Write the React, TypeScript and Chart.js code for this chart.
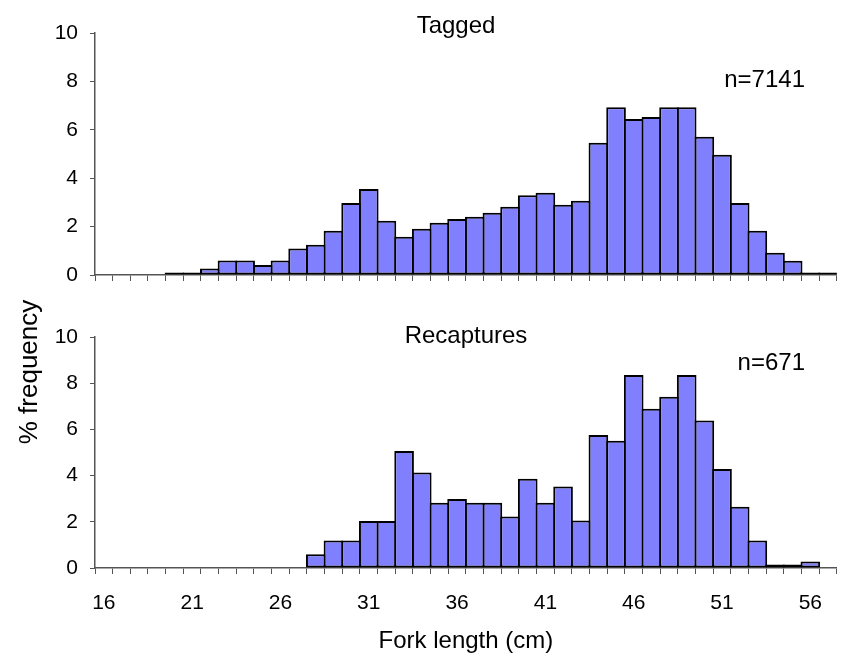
import React, { useEffect, useRef } from 'react';
import { Chart, registerables } from 'chart.js';

Chart.register(...registerables);

// Fork length classes (cm)
const lengths = [
  '16', '17', '18', '19', '20', '21', '22', '23', '24', '25', '26', '27', '28', '29',
  '30', '31', '32', '33', '34', '35', '36', '37', '38', '39', '40', '41', '42', '43',
  '44', '45', '46', '47', '48', '49', '50', '51', '52', '53', '54', '55', '56', '57',
];

// Tick labels shown on the x axis
const shownTicks = ['16', '21', '26', '31', '36', '41', '46', '51', '56'];

// % frequency, tagged fish (n=7141)
const tagged = [
  0, 0, 0, 0, 0.1, 0.1, 0.27, 0.6, 0.6, 0.41, 0.6, 1.09, 1.25, 1.83,
  2.98, 3.55, 2.24, 1.58, 1.91, 2.16, 2.31, 2.41, 2.57, 2.82, 3.3, 3.4, 2.9, 3.07,
  5.46, 6.93, 6.45, 6.53, 6.93, 6.93, 5.71, 4.97, 2.98, 1.83, 0.92, 0.59, 0.1, 0.1,
];

// % frequency, recaptured fish (n=671)
const recaptures = [
  0, 0, 0, 0, 0, 0, 0, 0, 0, 0, 0, 0, 0.6, 1.19,
  1.19, 2.04, 2.04, 5.06, 4.13, 2.83, 2.99, 2.83, 2.83, 2.23, 3.86, 2.83, 3.53, 2.06,
  5.76, 5.51, 8.36, 6.89, 7.41, 8.36, 6.39, 4.29, 2.65, 1.19, 0.15, 0.15, 0.28, 0,
];

const panelTitles = ['Tagged', 'Recaptures'];
const sampleSizes = ['n=7141', 'n=671'];
const yAxisTitle = '% frequency';
const xAxisTitle = 'Fork length (cm)';

const FONT = "'Liberation Sans', Arial, Helvetica, sans-serif";
const AXIS = '#555555';
const BAR_FILL = '#8080FF';
const W = 845;
const H = 655;

type TextItem = {
  text: string;
  x: number;
  y: number;
  align: CanvasTextAlign;
  size: number;
  rotate?: boolean;
};

function textPlugin(items: TextItem[]) {
  return {
    id: 'panelTexts',
    afterDraw(chart: any) {
      const ctx = chart.ctx as CanvasRenderingContext2D;
      ctx.save();
      ctx.fillStyle = '#000';
      for (const t of items) {
        ctx.font = `${t.size}px ${FONT}`;
        ctx.textAlign = t.align;
        ctx.textBaseline = 'alphabetic';
        if (t.rotate) {
          ctx.save();
          ctx.translate(t.x, t.y);
          ctx.rotate(-Math.PI / 2);
          ctx.fillText(t.text, 0, 0);
          ctx.restore();
        } else {
          ctx.fillText(t.text, t.x, t.y);
        }
      }
      ctx.restore();
    },
  };
}

function makeConfig(values: number[], isTop: boolean, texts: TextItem[]): any {
  return {
    type: 'bar',
    data: {
      labels: lengths,
      datasets: [
        {
          data: values,
          backgroundColor: BAR_FILL,
          borderColor: '#000',
          borderWidth: 2,
          borderSkipped: false,
          // widened by 2px so that neighbouring outlines coincide (shared edges)
          barPercentage: 1.112,
          categoryPercentage: 1,
        },
      ],
    },
    options: {
      responsive: false,
      animation: false,
      devicePixelRatio: 1,
      layout: {
        padding: isTop
          ? { top: 33, bottom: 360, left: 0, right: 0 }
          : { top: 337, bottom: 0, left: 0, right: 0 },
      },
      plugins: {
        legend: { display: false },
        tooltip: { enabled: false },
        title: { display: false },
      },
      scales: {
        x: {
          type: 'category',
          offset: true,
          grid: {
            display: true,
            offset: true,
            drawOnChartArea: false,
            drawTicks: true,
            tickLength: 6,
            color: AXIS,
            lineWidth: 1,
          },
          border: { display: true, color: AXIS, width: 1.5 },
          ticks: {
            autoSkip: false,
            maxRotation: 0,
            minRotation: 0,
            padding: 17,
            color: '#000',
            font: { family: FONT, size: 21 },
            callback: (_v: any, i: number) =>
              isTop ? '' : shownTicks.includes(lengths[i]) ? lengths[i] : '',
          },
          title: isTop
            ? { display: false }
            : {
                display: true,
                text: xAxisTitle,
                color: '#000',
                font: { family: FONT, size: 24 },
                padding: { top: 0, bottom: -1 },
              },
          afterFit: (s: any) => {
            s.height = isTop ? 20 : 87;
          },
        },
        y: {
          min: 0,
          max: 10,
          ticks: {
            stepSize: 2,
            padding: 12,
            color: '#000',
            font: { family: FONT, size: 21 },
          },
          grid: {
            drawOnChartArea: false,
            drawTicks: true,
            tickLength: 5,
            color: AXIS,
          },
          border: { display: true, color: AXIS, width: 1.5 },
          afterFit: (s: any) => {
            s.width = 95;
          },
        },
      },
    },
    plugins: [textPlugin(texts)],
  };
}

export default function App() {
  const topRef = useRef<HTMLCanvasElement>(null);
  const botRef = useRef<HTMLCanvasElement>(null);

  useEffect(() => {
    const top = new Chart(
      topRef.current!,
      makeConfig(tagged, true, [
        { text: panelTitles[0], x: 456, y: 33, align: 'center', size: 24 },
        { text: sampleSizes[0], x: 805, y: 87, align: 'right', size: 24 },
      ])
    );
    const bot = new Chart(
      botRef.current!,
      makeConfig(recaptures, false, [
        { text: panelTitles[1], x: 466, y: 343, align: 'center', size: 24 },
        { text: sampleSizes[1], x: 805, y: 370, align: 'right', size: 24 },
        { text: yAxisTitle, x: 37, y: 372, align: 'center', size: 26, rotate: true },
      ])
    );
    return () => {
      top.destroy();
      bot.destroy();
    };
  }, []);

  const canvasStyle: React.CSSProperties = {
    position: 'absolute',
    left: 0,
    top: 0,
    width: W,
    height: H,
  };

  return (
    <div
      style={{
        position: 'absolute',
        left: 0,
        top: 0,
        width: W,
        height: H,
        background: '#fff',
        overflow: 'hidden',
      }}
    >
      <canvas ref={botRef} width={W} height={H} style={canvasStyle} />
      <canvas ref={topRef} width={W} height={H} style={canvasStyle} />
    </div>
  );
}
